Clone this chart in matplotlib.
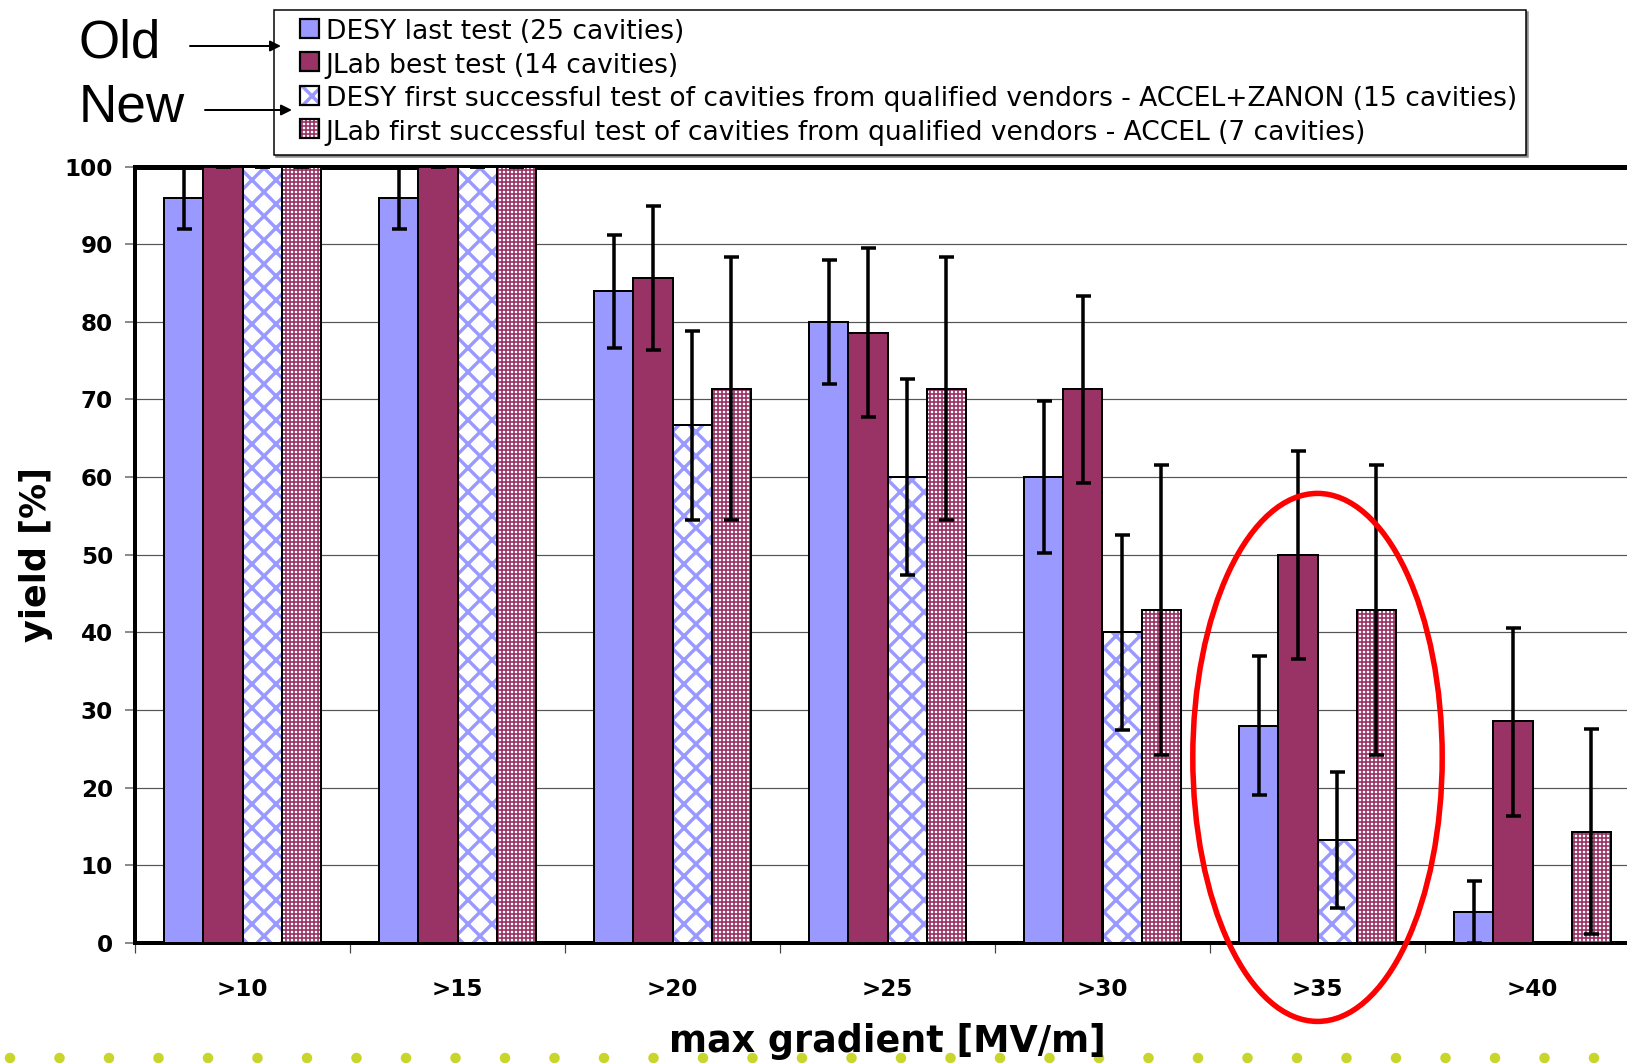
import numpy as np
import matplotlib
matplotlib.use("Agg")
import matplotlib.pyplot as plt
from matplotlib.patches import Rectangle, Ellipse

# --- data ---
categories = [">10", ">15", ">20", ">25", ">30", ">35", ">40"]

desy_last = [96, 96, 84, 80, 60, 28, 4]
desy_last_lo = [92, 92, 76.6, 72, 50.2, 19, 0]
desy_last_hi = [100, 100, 91.2, 88, 69.8, 37, 8]

jlab_best = [100, 100, 85.7, 78.6, 71.4, 50, 28.6]
jlab_best_lo = [100, 100, 76.4, 67.7, 59.3, 36.6, 16.4]
jlab_best_hi = [100, 100, 94.9, 89.5, 83.3, 63.3, 40.6]

desy_first = [100, 100, 66.7, 60, 40, 13.3, 0]
desy_first_lo = [100, 100, 54.5, 47.4, 27.4, 4.5, 0]
desy_first_hi = [100, 100, 78.8, 72.6, 52.6, 22.0, 0]

jlab_first = [100, 100, 71.4, 71.4, 42.9, 42.9, 14.3]
jlab_first_lo = [100, 100, 54.5, 54.5, 24.2, 24.2, 1.2]
jlab_first_hi = [100, 100, 88.4, 88.4, 61.5, 61.5, 27.5]

labels = [
    "DESY last test (25 cavities)",
    "JLab best test (14 cavities)",
    "DESY first successful test of cavities from qualified vendors - ACCEL+ZANON (15 cavities)",
    "JLab first successful test of cavities from qualified vendors - ACCEL (7 cavities)",
]

BLUE = "#9999ff"
MAROON = "#993366"
W, H = 1627, 1063
DPI = 72
HATCH_LW = {"x": 3.4, "+++": 1.7}

plt.rcParams["hatch.linewidth"] = 3.4

fig = plt.figure(figsize=(W / DPI, H / DPI), dpi=DPI)

ax = fig.add_axes([135 / W, (H - 943) / H, 1505 / W, 776.5 / H], zorder=2)

# transparent overlay in pixel coords for the slide decoration
bg = fig.add_axes([0, 0, 1, 1], zorder=10)
bg.set_xlim(0, W)
bg.set_ylim(H, 0)
bg.axis("off")
bg.patch.set_alpha(0)

x = np.arange(len(categories))
bw = 0.1825

series = [
    (desy_last, desy_last_lo, desy_last_hi, BLUE, None),
    (jlab_best, jlab_best_lo, jlab_best_hi, MAROON, None),
    (desy_first, desy_first_lo, desy_first_hi, BLUE, "x"),
    (jlab_first, jlab_first_lo, jlab_first_hi, MAROON, "+++"),
]

def set_hatch_lw(patches, lw):
    for p in patches:
        if hasattr(p, "set_hatch_linewidth"):
            p.set_hatch_linewidth(lw)

for k, (vals, lo, hi, col, hatch) in enumerate(series):
    xs = x + (k - 1.5) * bw
    if hatch is None:
        ax.bar(xs, vals, bw, color=col, edgecolor="black", linewidth=2, zorder=3)
    else:
        bars = ax.bar(xs, vals, bw, color="white", edgecolor=col, linewidth=0,
                      hatch=hatch, zorder=3)
        set_hatch_lw(bars, HATCH_LW[hatch])
        ax.bar(xs, vals, bw, fill=False, edgecolor="black", linewidth=2, zorder=3)
    v = np.array(vals, dtype=float)
    yerr = [v - np.array(lo), np.array(hi) - v]
    ax.errorbar(xs, v, yerr=yerr, fmt="none", ecolor="black", elinewidth=3.5,
                capsize=7.5, capthick=3.5, zorder=5, clip_on=False)

ax.set_xlim(-0.5, 6.5)
ax.set_ylim(0, 100)
ax.set_yticks(np.arange(0, 101, 10))
ax.set_xticks(x)
ax.set_xticklabels(categories)
ax.set_xticks(np.arange(-0.5, 7, 1), minor=True)
ax.tick_params(axis="x", which="major", length=0, pad=35, labelsize=23)
ax.tick_params(axis="x", which="minor", length=10, width=1.2, color="#444444")
ax.tick_params(axis="y", length=10, width=1.5, color="#666666", pad=12, labelsize=23)
for lab in ax.get_xticklabels() + ax.get_yticklabels():
    lab.set_fontweight("bold")

ax.yaxis.grid(True, color="#555555", linewidth=1.2, zorder=0)
ax.set_axisbelow(True)
ax.spines["top"].set_linewidth(5)
ax.spines["left"].set_linewidth(4)
ax.spines["bottom"].set_linewidth(4)
ax.spines["right"].set_linewidth(3)

# red ellipse around >35 group
ax.add_patch(Ellipse((5, 23.9), 1.16, 68, fill=False, edgecolor="red",
                     linewidth=5.5, clip_on=False, zorder=6))

# legend with small square handles
class SquareHandler:
    def __init__(self, face, hatch=None, hcolor=None):
        self.face, self.hatch, self.hcolor = face, hatch, hcolor

    def legend_artist(self, legend, orig_handle, fontsize, handlebox):
        x0, y0 = handlebox.xdescent, handlebox.ydescent
        w, h = handlebox.width, handlebox.height
        s = 19
        xy = (x0 + w - s, y0 + (h - s) / 2)
        if self.hatch:
            r = Rectangle(xy, s, s, facecolor="white", edgecolor=self.hcolor,
                          hatch=self.hatch, linewidth=0,
                          transform=handlebox.get_transform())
            set_hatch_lw([r], HATCH_LW[self.hatch])
        else:
            r = Rectangle(xy, s, s, facecolor=self.face, linewidth=0,
                          transform=handlebox.get_transform())
        handlebox.add_artist(r)
        o = Rectangle(xy, s, s, fill=False, edgecolor="black", linewidth=2.2,
                      transform=handlebox.get_transform())
        handlebox.add_artist(o)
        return o

proxies = [Rectangle((0, 0), 1, 1) for _ in range(4)]
hmap = {
    proxies[0]: SquareHandler(BLUE),
    proxies[1]: SquareHandler(MAROON),
    proxies[2]: SquareHandler(None, "x", BLUE),
    proxies[3]: SquareHandler(None, "+++", MAROON),
}
leg = fig.legend(proxies, labels, handler_map=hmap, loc="upper left",
                 bbox_to_anchor=(274 / W, 1 - 10 / H), bbox_transform=fig.transFigure,
                 borderaxespad=0, fontsize=26.5, frameon=True, fancybox=False,
                 shadow={"color": "0.55", "alpha": 1}, edgecolor="black",
                 handlelength=1.35, handleheight=0.8, handletextpad=0.25,
                 labelspacing=0.28, borderpad=0.35)
leg.get_frame().set_linewidth(1.5)

# Old / New annotations
bg.text(79, 58, "Old", fontsize=53, family="Liberation Sans", ha="left", va="baseline")
bg.text(79, 122, "New", fontsize=53, family="Liberation Sans", ha="left", va="baseline")
bg.annotate("", xy=(283, 46), xytext=(188, 46),
            arrowprops=dict(arrowstyle="-|>", color="black", lw=2, mutation_scale=22))
bg.annotate("", xy=(294, 110), xytext=(203, 110),
            arrowprops=dict(arrowstyle="-|>", color="black", lw=2, mutation_scale=22))

# axis titles
bg.text(887, 1041, "max gradient [MV/m]", fontsize=36.5, fontweight="bold",
        ha="center", va="center")
bg.text(36, 555, "yield [%]", fontsize=35, fontweight="bold", rotation=90,
        ha="center", va="center")

# slide footer dots
dots_x = np.arange(10, W, 49.5)
bg.scatter(dots_x, np.full_like(dots_x, 1058), s=110, color="#c8d62b",
           edgecolors="none", zorder=-2)

fig.savefig("out.png", dpi=DPI)
